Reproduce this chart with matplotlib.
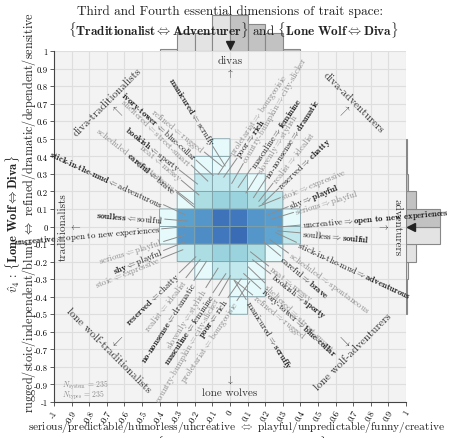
import re
import numpy as np
import matplotlib
matplotlib.use("Agg")
import matplotlib.pyplot as plt
from matplotlib.colors import LinearSegmentedColormap, LogNorm

plt.rcParams['font.family'] = 'cmr10'
plt.rcParams['mathtext.fontset'] = 'cm'
plt.rcParams['axes.unicode_minus'] = False
plt.rcParams['axes.formatter.use_mathtext'] = True

# ---------------- data ----------------
x_edges = [-0.4, -0.3, -0.2, -0.1, 0.0, 0.1, 0.2, 0.3, 0.4]
y_edges = [-0.5, -0.4, -0.3, -0.2, -0.1, 0.0, 0.1, 0.2, 0.3, 0.4, 0.5]
# rows from bottom (y=-0.5) to top (y=0.5); columns x=-0.4 .. 0.4
counts = [
    [0, 0, 0, 0, 1, 0, 0, 0],
    [0, 0, 0, 0, 1, 1, 0, 0],
    [0, 0, 1, 2, 2, 1, 0, 0],
    [0, 2, 3, 4, 4, 3, 1, 0],
    [1, 14, 17, 27, 35, 14, 10, 2],
    [1, 11, 14, 30, 27, 14, 12, 1],
    [0, 1, 3, 4, 4, 3, 2, 0],
    [0, 0, 2, 2, 2, 1, 0, 0],
    [0, 0, 1, 1, 0, 0, 0, 0],
    [0, 0, 0, 1, 0, 0, 0, 0],
]
top_hist = [2, 18, 18, 36, 36, 27, 18, 2]               # x marginal (x bins -0.4..0.4)
right_hist = [0.6, 0.6, 2, 10, 34, 34, 10, 2, 0.6, 0.6]  # y marginal (y bins -0.5..0.5)
median_x = 0.0
median_y = 0.0
N_system = 235
N_types = 235

# trait labels: (left word, right word, arrow, bold side, grey?, x, y, rotation, ha)
traits = [
    # upper-left
    ("stick-in-the-mud", "adventurous", "<", "L", False, -0.386, 0.128, -25, "right"),
    ("scheduled", "spontaneous", "<", "", True, -0.318, 0.214, -38, "right"),
    ("careful", "brave", "<", "L", False, -0.31, 0.20, -40, "right"),
    ("neat", "messy", "<", "", True, -0.284, 0.27, -40, "right"),
    ("bookish", "sporty", "<", "L", False, -0.295, 0.328, -38, "right"),
    ("sheltered", "street-smart", "<", "", True, -0.227, 0.356, -44, "right"),
    ("ivory-tower", "blue-collar", "<", "L", False, -0.20, 0.385, -42, "right"),
    ("refined", "rugged", "<", "", True, -0.153, 0.43, -39, "right"),
    ("manicured", "scruffy", "<", "L", False, -0.102, 0.464, -58, "right"),
    # upper-right
    ("proletariat", "bourgeoisie", ">", "", True, 0.011, 0.413, 56, "left"),
    ("poor", "rich", ">", "R", False, 0.045, 0.396, 55, "left"),
    ("country-bumpkin", "city-slicker", ">", "", True, 0.08, 0.367, 60, "left"),
    ("masculine", "feminine", ">", "R", False, 0.125, 0.339, 56, "left"),
    ("slovenly", "stylish", ">", "", True, 0.165, 0.31, 58, "left"),
    ("no-nonsense", "dramatic", ">", "R", False, 0.21, 0.282, 57, "left"),
    ("realist", "idealist", ">", "", True, 0.25, 0.254, 52, "left"),
    ("reserved", "chatty", ">", "R", False, 0.284, 0.225, 44, "left"),
    ("stoic", "expressive", ">", "", True, 0.295, 0.168, 22, "left"),
    ("shy", "playful", ">", "R", False, 0.34, 0.117, 22, "left"),
    ("serious", "playful", ">", "", True, 0.37, 0.083, 17, "left"),
    ("uncreative", "open to new experiences", ">", "R", False, 0.41, 0.009, 5, "left"),
    ("soulless", "soulful", ">", "R", False, 0.41, -0.037, -5, "left"),
    # lower-right
    ("stick-in-the-mud", "adventurous", ">", "R", False, 0.386, -0.094, -25, "left"),
    ("scheduled", "spontaneous", ">", "", True, 0.34, -0.157, -36, "left"),
    ("careful", "brave", ">", "R", False, 0.295, -0.174, -40, "left"),
    ("neat", "messy", ">", "", True, 0.227, -0.231, -38, "left"),
    ("bookish", "sporty", ">", "R", False, 0.239, -0.276, -38, "left"),
    ("sheltered", "street-smart", ">", "", True, 0.205, -0.328, -44, "left"),
    ("ivory-tower", "blue-collar", ">", "R", False, 0.182, -0.362, -42, "left"),
    ("refined", "rugged", ">", "", True, 0.136, -0.396, -39, "left"),
    ("manicured", "scruffy", ">", "R", False, 0.097, -0.424, -58, "left"),
    # lower-left
    ("proletariat", "bourgeoisie", "<", "", True, 0.034, -0.43, 56, "right"),
    ("poor", "rich", "<", "L", False, -0.017, -0.413, 55, "right"),
    ("country-bumpkin", "city-slicker", "<", "", True, -0.068, -0.402, 60, "right"),
    ("masculine", "feminine", "<", "L", False, -0.102, -0.385, 56, "right"),
    ("slovenly", "stylish", "<", "", True, -0.142, -0.356, 58, "right"),
    ("no-nonsense", "dramatic", "<", "L", False, -0.21, -0.316, 57, "right"),
    ("realist", "idealist", "<", "", True, -0.256, -0.299, 52, "right"),
    ("reserved", "chatty", "<", "L", False, -0.295, -0.27, 44, "right"),
    ("stoic", "expressive", "<", "", True, -0.398, -0.185, 22, "right"),
    ("shy", "playful", "<", "L", False, -0.386, -0.14, 22, "right"),
    ("serious", "playful", "<", "", True, -0.386, -0.088, 17, "right"),
    ("uncreative", "open to new experiences", "<", "L", False, -0.398, -0.014, 5, "right"),
    ("soulless", "soulful", "<", "L", False, -0.38, 0.043, -5, "right"),
]

directions = [
    ("divas", r"$\uparrow$", 0.0, 0.95, 0.0, 0.875, 0),
    ("lone wolves", r"$\downarrow$", 0.0, -0.943, 0.0, -0.87, 0),
    ("traditionalists", r"$\leftarrow$", -0.95, 0.0, -0.88, 0.0, 90),
    ("adventurers", r"$\rightarrow$", 0.95, 0.0, 0.87, 0.0, -90),
    ("diva-traditionalists", r"$\nwarrow$", -0.70, 0.71, -0.64, 0.66, 45),
    ("diva-adventurers", r"$\nearrow$", 0.70, 0.71, 0.65, 0.66, -45),
    ("lone wolf-traditionalists", r"$\swarrow$", -0.69, -0.70, -0.64, -0.65, -45),
    ("lone wolf-adventurers", r"$\searrow$", 0.70, -0.71, 0.65, -0.65, 45),
]

ticks = [round(v, 1) for v in np.arange(-1.0, 1.01, 0.1)]
tick_labels = [("%g" % t) if t != 0 else "0" for t in ticks]

# ---------------- figure ----------------
W, H = 464, 439
fig = plt.figure(figsize=(W / 100, H / 100), dpi=100)

def px_axes(x0, y0, x1, y1):
    return fig.add_axes([x0 / W, 1 - y1 / H, (x1 - x0) / W, (y1 - y0) / H])

ax = px_axes(54, 52, 406, 403)
ax.set_zorder(2)
ax.set_facecolor('#f3f3f3')
ax.set_xlim(-1, 1)
ax.set_ylim(-1, 1)
ax.set_xticks(ticks)
ax.set_yticks(ticks)
ax.set_xticklabels(tick_labels, rotation=60, ha='center', va='top', fontsize=6.3)
ax.set_yticklabels(tick_labels, fontsize=6.3)
ax.tick_params(length=3, width=0.6, color='#444', pad=1.5)
ax.grid(True, color='#dedede', lw=0.8)
ax.set_axisbelow(True)
for s in ['top', 'right']:
    ax.spines[s].set_visible(False)
for s in ['left', 'bottom']:
    ax.spines[s].set_color('#444')
    ax.spines[s].set_linewidth(0.8)

cmap = LinearSegmentedColormap.from_list(
    'c', ['#e6fafc', '#a6dbe0', '#5ca2d0', '#3a6cb6'])
Z = np.ma.masked_equal(np.array(counts, dtype=float), 0)
ax.pcolor(x_edges, y_edges, Z, cmap=cmap, norm=LogNorm(1, 35),
          edgecolors='#7f9fa6', linewidth=0.6, zorder=2)

def boldify(s):
    parts = re.split(r'([\- ])', s)
    return ''.join(p if p in ('-', ' ', '') else r'$\mathbf{%s}$' % p for p in parts)

for (lw_, rw_, arr, bside, grey, x, y, rot, ha) in traits:
    L = boldify(lw_) if bside == 'L' else lw_
    R = boldify(rw_) if bside == 'R' else rw_
    A = r'$\Leftarrow$' if arr == '<' else r'$\Rightarrow$'
    col = '#8a8a8a' if grey else '#1a1a1a'
    ax.text(x, y, L + A + R, rotation=rot, rotation_mode='anchor', ha=ha,
            va='center', fontsize=6.3, color=col, zorder=5, clip_on=False)
    th = np.deg2rad(rot)
    d = np.array([np.cos(th), np.sin(th)])
    if ha == 'left':
        d = -d
    p0 = np.array([x, y]) + 0.01 * d
    p1 = np.array([x, y]) + 0.14 * d
    ax.plot([p0[0], p1[0]], [p0[1], p1[1]], color='#8c8c8c', lw=0.7, zorder=4)

for (name, arrow, tx, ty, axx, ayy, rot) in directions:
    ax.text(tx, ty, name, rotation=rot, ha='center', va='center',
            fontsize=8, color='#333', zorder=5)
    ax.text(axx, ayy, arrow, ha='center', va='center', fontsize=7,
            color='#333', zorder=5)

ax.text(-0.955, -0.897, r"$N_{\mathrm{system}}$ = %d" % N_system, fontsize=5.5,
        color='#888', va='center', zorder=5)
ax.text(-0.955, -0.954, r"$N_{\mathrm{types}}$ = %d" % N_types, fontsize=5.5,
        color='#888', va='center', zorder=5)

# marginal histograms
axt = px_axes(54, 52 - 40, 406, 52)
axt.set_zorder(0)
axt.set_xlim(-1, 1)
axt.set_ylim(0, 40)
xc = np.array(x_edges[:-1]) + 0.05
cols_t = ['#e3e3e3' if c < median_x else '#c2c2c2' for c in xc]
axt.bar(xc, top_hist, width=0.1, color=cols_t, edgecolor='#888', lw=0.8)
axt.plot([median_x], [6], marker='v', color='#222', ms=6)
axt.axis('off')

axr = px_axes(406, 52, 406 + 40, 403)
axr.set_zorder(0)
axr.set_ylim(-1, 1)
axr.set_xlim(0, 40)
yc = np.array(y_edges[:-1]) + 0.05
cols_r = ['#e3e3e3' if c < median_y else '#c2c2c2' for c in yc]
axr.barh(yc, right_hist, height=0.1, color=cols_r, edgecolor='#888', lw=0.8)
axr.plot([5], [median_y], marker='<', color='#222', ms=6)
axr.axis('off')

# colorbar
axc = px_axes(58, 63, 65, 122)
levels = np.geomspace(1, 35, 8)
axc.pcolormesh([0, 1], np.arange(9), levels.reshape(-1, 1), cmap=cmap,
               norm=LogNorm(1, 35), edgecolors='#7a9aa0', linewidth=0.4)
axc.set_xlim(0, 1)
axc.set_ylim(0, 8)
axc.axis('off')
axc.text(1.3, 7.5, '35', fontsize=4, va='center', color='#333')
axc.text(1.3, 0.5, '1', fontsize=4, va='center', color='#333')

# titles and labels
fig.text(230 / W, 1 - 12 / H, "Third and Fourth essential dimensions of trait space:",
         ha='center', va='center', fontsize=9.5, color='#222')
fig.text(233 / W, 1 - 30 / H,
         r"$\{\mathbf{Traditionalist}\Leftrightarrow\mathbf{Adventurer}\}$ and "
         r"$\{\mathbf{Lone\ Wolf}\Leftrightarrow\mathbf{Diva}\}$",
         ha='center', va='center', fontsize=9.5, color='#222')
fig.text(236 / W, 1 - 427 / H,
         r"serious/predictable/humorless/uncreative $\Leftrightarrow$ playful/unpredictable/funny/creative",
         ha='center', va='center', fontsize=8.2, color='#222')
fig.text(230 / W, 1 - 444 / H,
         r"$\hat{v}_3$ : $\{\mathbf{Traditionalist}\Leftrightarrow\mathbf{Adventurer}\}$",
         ha='center', va='center', fontsize=9, color='#222')
fig.text(29 / W, 1 - 213 / H,
         r"rugged/stoic/independent/blunt $\Leftrightarrow$ refined/dramatic/dependent/sensitive",
         ha='center', va='center', rotation=90, fontsize=8.8, color='#222')
fig.text(13 / W, 1 - 224 / H,
         r"$\hat{v}_4$ : $\{\mathbf{Lone\ Wolf}\Leftrightarrow\mathbf{Diva}\}$",
         ha='center', va='center', rotation=90, fontsize=9, color='#222')

fig.savefig('out.png', dpi=100)
